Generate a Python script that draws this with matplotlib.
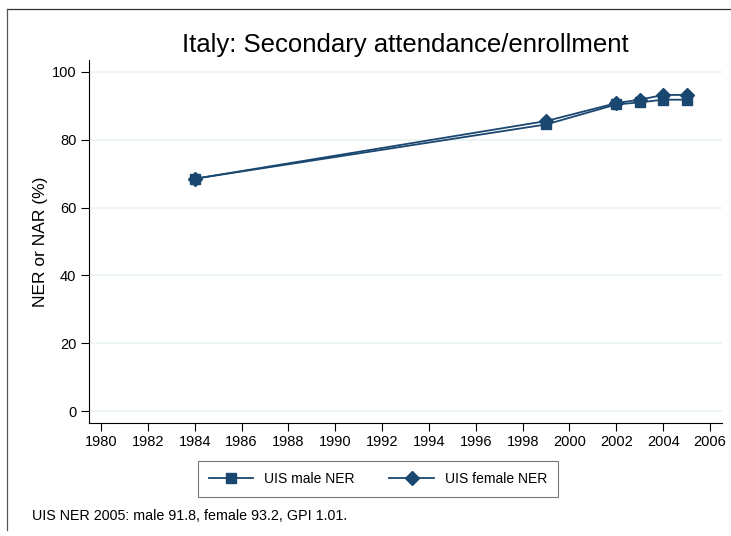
import numpy as np
import matplotlib
matplotlib.use('Agg')
import matplotlib.pyplot as plt
from matplotlib.lines import Line2D

plt.rcParams['font.family'] = ['Liberation Sans', 'DejaVu Sans']

years = [1984, 1999, 2002, 2003, 2004, 2005]
male = [68.5, 84.5, 90.4, 91.0, 91.8, 91.8]
female = [68.5, 85.5, 90.8, 91.8, 93.2, 93.2]
xticks = list(range(1980, 2007, 2))
yticks = [0, 20, 40, 60, 80, 100]
navy = '#1a476f'

W, H = 731, 536
fig = plt.figure(figsize=(W/100, H/100), dpi=100)
ax = fig.add_axes([89/W, 1-423/H, (722-89)/W, (423-60)/H])

ax.plot(years, male, color=navy, lw=1.3, marker='s', ms=7, zorder=3, label='UIS male NER')
ax.plot(years, female, color=navy, lw=1.3, marker='D', ms=7.5, zorder=3, label='UIS female NER')

ax.set_xlim(1979.49, 2006.51)
ax.set_ylim(-3.5, 103.5)
ax.set_xticks(xticks)
ax.set_yticks(yticks)
ax.tick_params(labelsize=10.5, length=6, color='black', pad=3)
ax.yaxis.grid(True, color='#eaf2f3', lw=1.2)
ax.set_axisbelow(True)
for s in ['top', 'right']:
    ax.spines[s].set_visible(False)
ax.set_ylabel('NER or NAR (%)', fontsize=12.5, labelpad=3)
ax.set_title('Italy: Secondary attendance/enrollment', fontsize=18.5, pad=6)

leg = fig.legend(loc='center', bbox_to_anchor=(378/W, 1-479/H), ncol=2, fontsize=10,
                 frameon=True, fancybox=False, edgecolor='#555555', borderpad=0.8,
                 handlelength=3.2, columnspacing=2.5, markerscale=1.0)
leg.get_frame().set_linewidth(0.8)

fig.text(32/W, 1-516/H, 'UIS NER 2005: male 91.8, female 93.2, GPI 1.01.', fontsize=10.3,
         va='center', ha='left')

fig.add_artist(Line2D([7/W, 1], [1-9/H, 1-9/H], color='#333333', lw=0.9, transform=fig.transFigure))
fig.add_artist(Line2D([7/W, 7/W], [1-9/H, 1-530/H], color='#555555', lw=0.9, transform=fig.transFigure))

fig.savefig('out.png', dpi=100)
